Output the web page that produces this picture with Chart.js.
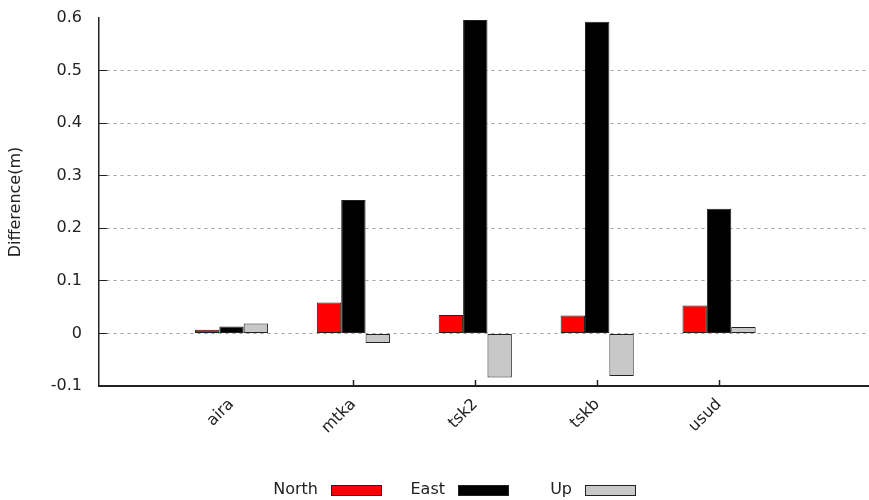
<!DOCTYPE html>
<html>
<head>
<meta charset="utf-8">
<script src="https://cdn.jsdelivr.net/npm/chart.js@4"></script>
<style>
  html, body { margin: 0; padding: 0; background: #fff; }
  #wrap { width: 869px; height: 500px; }
</style>
</head>
<body>
<div id="wrap"><canvas id="c"></canvas></div>
<script>
// Station codes along the x axis
const stations = ['aira', 'mtka', 'tsk2', 'tskb', 'usud'];

// Coordinate differences per component (metres)
const north = [0.007, 0.059, 0.035, 0.034, 0.053];
const east  = [0.013, 0.254, 0.596, 0.593, 0.237];
const up    = [0.019, -0.018, -0.084, -0.081, 0.012];

const seriesNames = ['North', 'East', 'Up'];
const yTickValues = [-0.1, 0, 0.1, 0.2, 0.3, 0.4, 0.5, 0.6];

const FONT = '"DejaVu Sans", sans-serif';
const INK = '#222';
const FONT_SIZE = 16;
const CLEAR = 'rgba(0,0,0,0)';

const toPoints = arr => arr.map((v, i) => ({ x: i, y: v }));

// Horizontal key: label right-aligned in front of its swatch
const keyPlugin = {
  id: 'key',
  afterDraw(chart) {
    const ctx = chart.ctx;
    ctx.save();
    ctx.font = FONT_SIZE + 'px ' + FONT;
    ctx.textAlign = 'right';
    ctx.textBaseline = 'middle';
    chart.data.datasets.forEach((ds, i) => {
      const sx = 331 + 127 * i;
      ctx.fillStyle = INK;
      ctx.fillText(ds.label, sx - 13, 490);
      ctx.fillStyle = ds.backgroundColor;
      ctx.fillRect(sx, 485, 50, 10);
      ctx.strokeStyle = INK;
      ctx.lineWidth = 1;
      ctx.strokeRect(sx + 0.5, 485.5, 50, 10);
    });
    ctx.restore();
  }
};

const barStyle = { borderColor: '#222', borderWidth: 1, borderSkipped: false,
                   categoryPercentage: 0.6, barPercentage: 1.0 };

new Chart(document.getElementById('c'), {
  type: 'bar',
  data: {
    datasets: [
      { label: seriesNames[0], data: toPoints(north), backgroundColor: '#ff0000', ...barStyle },
      { label: seriesNames[1], data: toPoints(east),  backgroundColor: '#000000', ...barStyle },
      { label: seriesNames[2], data: toPoints(up),    backgroundColor: '#c8c8c8', ...barStyle }
    ]
  },
  options: {
    responsive: true,
    maintainAspectRatio: false,
    animation: false,
    layout: { padding: { top: 18, right: 0, bottom: 0, left: 0 } },
    plugins: { legend: { display: false }, tooltip: { enabled: false } },
    scales: {
      x: {
        type: 'linear',
        offset: false,
        min: -1.087,
        max: 5.23,
        afterBuildTicks: s => { s.ticks = stations.map((_, i) => ({ value: i })); },
        afterFit: s => { s.height = 114; },
        ticks: {
          autoSkip: false,
          minRotation: 45,
          maxRotation: 45,
          padding: 15,
          color: INK,
          font: { family: FONT, size: FONT_SIZE },
          callback: v => stations[v]
        },
        grid: {
          offset: false,
          drawOnChartArea: false,
          drawTicks: true,
          tickLength: -6,
          tickWidth: 1.5,
          tickColor: ctx => (ctx.tick && ctx.tick.value === 0) ? CLEAR : INK
        },
        border: { color: INK, width: 2 }
      },
      y: {
        min: -0.1,
        max: 0.6,
        afterBuildTicks: s => { s.ticks = yTickValues.map(v => ({ value: v })); },
        afterFit: s => { s.width = 99; s.paddingTop = 0; s.paddingBottom = 0; },
        ticks: {
          padding: 25,
          color: INK,
          font: { family: FONT, size: FONT_SIZE },
          callback: v => (Math.abs(v) < 1e-9 ? '0' : v.toFixed(1))
        },
        grid: {
          drawTicks: true,
          tickLength: -8,
          tickWidth: 1,
          tickColor: ctx => (ctx.tick && (ctx.tick.value > 0.55 || ctx.tick.value < -0.05)) ? CLEAR : INK,
          color: ctx => (ctx.tick && (ctx.tick.value > 0.55 || ctx.tick.value < -0.05)) ? CLEAR : '#a0a0a0',
          lineWidth: 1
        },
        border: { color: INK, width: 1.5, dash: [3, 4] },
        title: {
          display: true,
          text: 'Difference(m)',
          color: INK,
          font: { family: FONT, size: FONT_SIZE },
          padding: { top: 6, bottom: 0 }
        }
      }
    }
  },
  plugins: [keyPlugin]
});
</script>
</body>
</html>
